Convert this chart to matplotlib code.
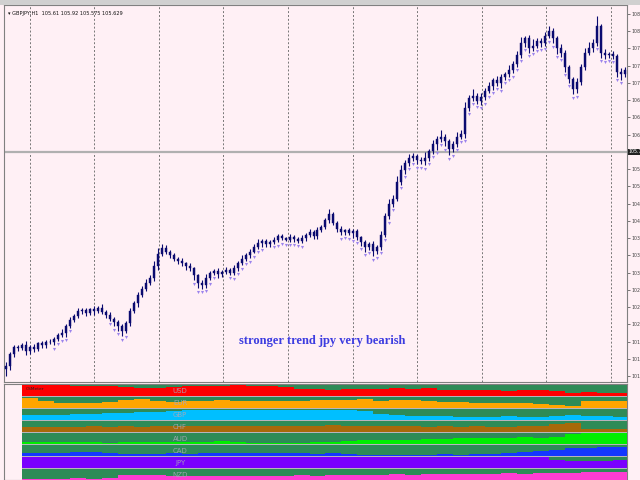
import numpy as np
import matplotlib
matplotlib.use("Agg")
import matplotlib.pyplot as plt
from matplotlib.patches import Rectangle

# ---------------- data ----------------
closes = [101.30,101.55,101.70,101.68,101.75,101.62,101.70,101.66,101.78,101.74,
          101.82,101.80,101.88,101.95,102.00,102.15,102.28,102.35,102.45,102.48,
          102.42,102.50,102.46,102.52,102.44,102.38,102.30,102.22,102.15,102.05,
          102.20,102.45,102.62,102.80,102.92,103.05,103.15,103.40,103.65,103.78,
          103.70,103.62,103.55,103.50,103.45,103.40,103.35,103.20,103.05,103.00,
          103.15,103.25,103.30,103.22,103.28,103.32,103.25,103.35,103.45,103.55,
          103.62,103.70,103.80,103.88,103.92,103.85,103.90,103.95,104.02,103.98,
          103.95,104.00,103.96,103.92,103.98,104.05,104.10,104.02,104.15,104.22,
          104.35,104.48,104.30,104.18,104.10,104.15,104.08,104.12,104.00,103.90,
          103.80,103.85,103.72,103.80,104.05,104.45,104.70,104.80,105.15,105.40,
          105.55,105.65,105.70,105.62,105.58,105.65,105.80,105.95,106.05,106.10,
          106.00,105.85,105.95,106.10,106.15,106.70,106.90,106.95,106.85,106.92,
          107.05,107.15,107.28,107.22,107.35,107.40,107.50,107.62,107.80,108.05,
          108.15,107.95,108.00,108.10,108.05,108.20,108.30,108.15,107.95,107.85,
          107.55,107.30,107.10,107.25,107.55,107.85,107.95,108.05,108.40,107.85,
          107.80,107.82,107.78,107.45,107.40,107.50]
upper_wick = [10,6,4,5,3,8,4,6,3,5,4,6,3,5,8,4,6,5,7,4,
              5,3,6,4,8,3,5,4,6,3,5,7,4,6,5,8,6,10,12,8,
              6,4,5,3,6,4,5,3,4,6,8,5,4,6,3,5,4,6,5,7,
              4,6,5,8,4,5,3,6,4,5,3,6,4,5,7,4,8,5,6,4,
              6,10,5,4,6,3,5,4,6,3,5,4,6,4,8,6,10,8,12,10,
              6,8,5,4,6,12,5,8,6,14,5,4,6,10,8,12,6,14,5,8,
              6,10,5,8,6,5,10,6,8,12,6,8,14,6,5,8,10,6,5,8,
              6,5,4,8,6,10,12,8,22,6,8,5,6,4,8,6]
lower_wick = [15,8,6,5,4,8,5,6,4,6,5,4,6,5,4,8,5,6,4,5,
              6,4,8,5,4,6,5,8,10,12,6,5,4,8,6,5,4,6,8,5,
              6,5,4,6,5,8,6,10,12,8,6,5,4,8,5,6,4,5,6,4,
              5,6,4,5,8,6,5,4,6,5,4,5,6,4,5,6,4,5,6,5,
              4,6,5,8,6,5,4,10,6,8,10,6,12,8,6,5,8,6,5,6,
              8,6,5,10,6,8,5,6,12,6,10,14,8,6,5,8,6,5,6,8,
              6,5,8,6,10,6,5,8,6,5,8,10,6,5,8,6,5,10,12,8,
              10,8,12,10,8,6,5,8,6,10,8,6,5,10,12,6]
marker_idx = (list(range(12, 17)) + list(range(26, 31)) + list(range(47, 53)) +
              list(range(56, 65)) + list(range(67, 75)) + list(range(84, 98)) +
              list(range(99, 117)) + list(range(117, 144)) + list(range(148, 155)))

price_ticks = [101.10,101.46,101.82,102.18,102.54,102.90,103.26,103.62,103.98,104.34,
               104.70,105.06,105.42,106.14,106.50,106.86,107.22,107.58,107.94,
               108.30,108.66]
bid_price = 105.78
grid_x = [6.0, 22.1, 38.3, 54.4, 70.6, 86.8, 102.9, 119.1, 135.2, 151.4]

currencies = ["USD", "EUR", "GBP", "CHF", "AUD", "CAD", "JPY", "NZD"]
cur_colors = ["#FF0000", "#FFA500", "#00BFFF", "#A8690A", "#00EE00", "#1438FF", "#7A00FF", "#FF3CD2"]
seg_edges = [4,8,12,16,20,24,28,32,36,40,44,48,52,56,60,64,68,72,76,80,84,88,92,96,
             100,104,108,112,116,120,124,128,132,136,140,144,148,152,155.5]
usd = [1.0,1.0,1.0,0.95,0.9,0.95,0.85,0.8,0.75,0.85,0.9,0.95,0.9,1.0,0.95,0.9,0.85,0.7,0.65,
       0.6,0.65,0.7,0.65,0.8,0.7,0.75,0.6,0.55,0.6,0.55,0.5,0.55,0.6,0.45,0.3,0.35,0.3,0.3]
eur = [0.9,0.65,0.5,0.5,0.5,0.55,0.8,0.85,0.65,0.6,0.65,0.7,0.75,0.7,0.65,0.7,0.7,0.65,0.75,
       0.8,0.75,0.85,0.7,0.8,0.8,0.65,0.6,0.55,0.5,0.5,0.45,0.45,0.4,0.3,0.15,0.65,0.7,0.65]
gbp = [0.45,0.45,0.5,0.55,0.55,0.65,0.7,0.75,0.8,0.85,0.9,0.9,0.95,0.9,0.95,0.95,0.9,0.95,0.9,
       0.95,0.9,0.85,0.6,0.45,0.4,0.35,0.35,0.3,0.3,0.3,0.35,0.3,0.3,0.4,0.5,0.35,0.35,0.3]
chf = [0.45,0.5,0.45,0.5,0.55,0.5,0.55,0.5,0.6,0.55,0.6,0.6,0.55,0.6,0.55,0.6,0.6,0.55,0.6,
       0.65,0.6,0.55,0.6,0.6,0.55,0.5,0.55,0.5,0.55,0.5,0.5,0.55,0.6,0.75,0.85,0.3,0.3,0.3]
aud = [0.15,0.15,0.2,0.15,0.15,0.1,0.15,0.15,0.2,0.15,0.15,0.2,0.25,0.2,0.1,0.1,0.1,0.1,0.15,
       0.2,0.3,0.35,0.35,0.4,0.4,0.45,0.5,0.55,0.6,0.6,0.6,0.65,0.6,0.65,0.9,1.0,1.0,1.0]
cad = [0.3,0.3,0.3,0.35,0.35,0.3,0.2,0.15,0.2,0.3,0.2,0.25,0.3,0.3,0.25,0.3,0.3,0.25,0.2,
       0.3,0.15,0.1,0.1,0.1,0.05,0.1,0.15,0.1,0.15,0.2,0.25,0.35,0.45,0.6,0.75,0.8,0.85,0.85]
jpy = [1.0,1.0,1.0,1.0,1.0,1.0,1.0,1.0,1.0,1.0,1.0,1.0,1.0,1.0,1.0,1.0,1.0,1.0,1.0,
       1.0,1.0,1.0,1.0,1.0,1.0,1.0,1.0,1.0,1.0,1.0,1.0,1.0,1.0,0.75,0.7,0.65,0.7,0.75]
nzd = [0.1,0.1,0.1,0.15,0.1,0.2,0.45,0.5,0.45,0.4,0.35,0.4,0.35,0.4,0.35,0.4,0.4,0.45,0.4,
       0.45,0.5,0.45,0.5,0.55,0.5,0.55,0.6,0.6,0.55,0.6,0.65,0.6,0.65,0.7,0.7,0.75,0.75,0.75]
strengths = [usd, eur, gbp, chf, aud, cad, jpy, nzd]

title_text = "GBPJPY,H1  105.61 105.92 105.575 105.629"
note_text = "stronger trend jpy very bearish"

# ---------------- figure ----------------
W, H = 640, 480
fig = plt.figure(figsize=(6.4, 4.8), dpi=100)
fig.patch.set_facecolor("#FFF0F5")
PINK = "#FFF0F5"
NAVY = "#0B0B70"

def fax(x0, y0, x1, y1):
    return fig.add_axes([x0 / W, 1 - y1 / H, (x1 - x0) / W, (y1 - y0) / H])

fig.patches.append(Rectangle((0, 1 - 5 / H), 1, 5 / H, transform=fig.transFigure,
                             facecolor="#D0D0D0", edgecolor="none"))

ax = fax(4, 5, 627, 382)
ax.set_facecolor(PINK)
n = len(closes)
x = np.arange(n)
c = np.array(closes)
o = np.concatenate([[c[0] - 0.05], c[:-1]])
hi = np.maximum(o, c) + np.array(upper_wick) / 100.0
lo = np.minimum(o, c) - np.array(lower_wick) / 100.0

ax.set_xlim(-0.5, n - 0.5)
ax.set_ylim(100.975, 108.848)
for gx in grid_x:
    ax.axvline(gx, color="#777777", lw=0.7, ls=(0, (2, 2)), zorder=1)
ax.axhline(bid_price, color="#B0B0B0", lw=1.6, zorder=2)

ax.vlines(x, lo, hi, color=NAVY, lw=0.8, zorder=3)
body_bot = np.minimum(o, c)
body_h = np.maximum(np.abs(c - o), 0.015)
ax.bar(x, body_h, bottom=body_bot, width=0.5, color=NAVY, edgecolor=NAVY, lw=0.3, zorder=4)
mi = np.array(marker_idx)
ax.scatter(mi, lo[mi] - 0.07, marker="v", s=5, color="#9C84EC", lw=0, zorder=5)

ax.yaxis.tick_right()
ax.set_yticks(price_ticks)
ax.set_yticklabels([f"{p:.2f}" for p in price_ticks], fontsize=3.4, color="#222222")
ax.tick_params(axis="y", length=2, width=0.5, pad=1.0, colors="#444444")
ax.set_xticks([])
for s in ax.spines.values():
    s.set_color("#808080")
    s.set_linewidth(0.8)
ax.text(1.003, bid_price, f"{bid_price:.2f}", transform=ax.get_yaxis_transform(),
        fontsize=3.4, color="white", va="center", ha="left",
        bbox=dict(boxstyle="square,pad=0.15", fc="#222222", ec="none"), zorder=10)
ax.text(0.006, 0.985, "\u25BE " + title_text, transform=ax.transAxes, fontsize=3.6,
        color="#111111", va="top", ha="left")
ax.text(79.2, 101.83, note_text, fontsize=9, fontweight="bold", family="Liberation Serif",
        color="#3C3CE0", ha="center", va="center", zorder=6)

# ---------------- strength panel ----------------
px = fax(4, 384, 627, 480)
px.set_facecolor(PINK)
px.set_xlim(-0.5, n - 0.5)
px.set_ylim(0.0, 8.0)
xe = np.array(seg_edges)
px.fill_between([xe[0], xe[-1]], 0, 8, color="#B8B4BC", lw=0, zorder=1)
for k, (name, col, vals) in enumerate(zip(currencies, cur_colors, strengths)):
    yb = 8.0 - (k + 1)          # stripe bottom
    yt = yb + 0.88              # stripe top
    px.fill_between([xe[0], xe[-1]], yb, yt, color="#2E8B57", lw=0, zorder=2)
    v = np.array(vals + [vals[-1]])
    px.fill_between(xe, yb, yb + (yt - yb) * v, step="post", color=col, lw=0, zorder=3)
    px.text(43.6, (yb + yt) / 2, name, fontsize=5, color="#A8A8B8", alpha=0.9,
            ha="center", va="center", zorder=4)
px.text(5.0, 7.6, "CSMeter", fontsize=3.2, color="#222222", ha="left", va="center", zorder=5)
px.set_xticks([])
px.set_yticks([])
for s in px.spines.values():
    s.set_color("#808080")
    s.set_linewidth(0.8)

fig.savefig("out.png", dpi=100, facecolor=fig.get_facecolor())
